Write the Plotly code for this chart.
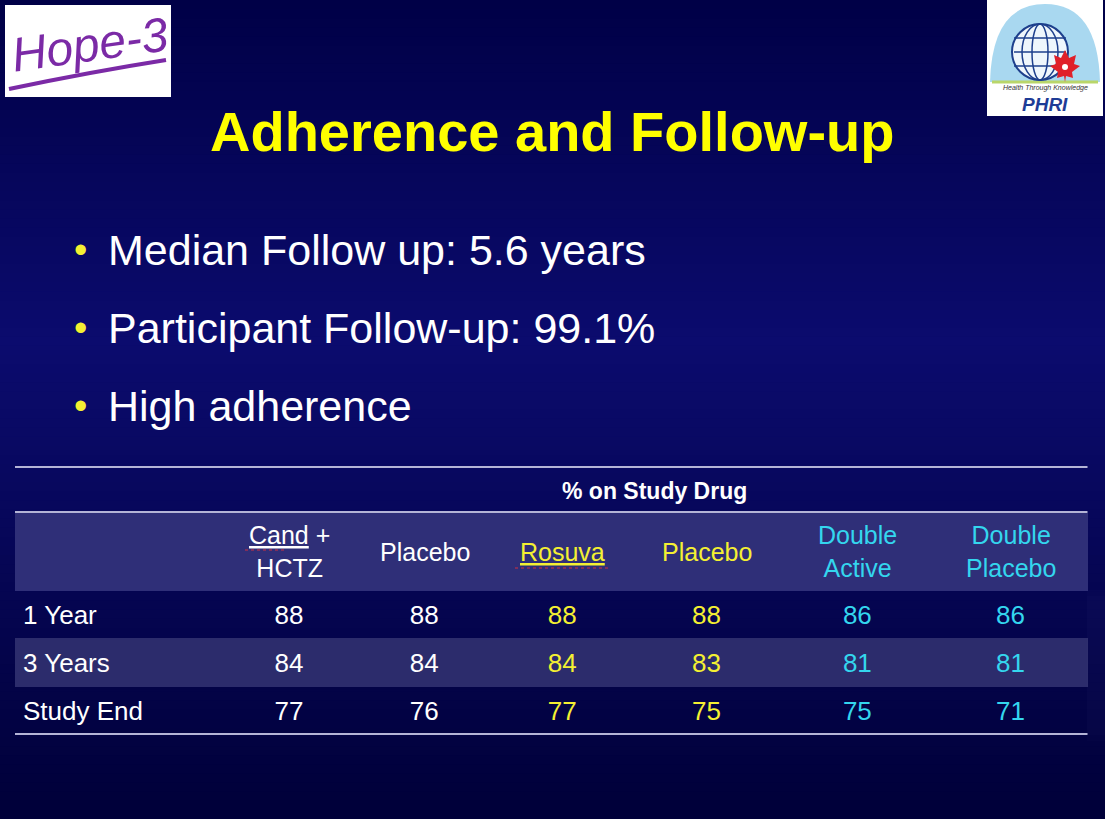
import plotly.graph_objects as go

W, H = 1105, 819
FONT = "Arial, Liberation Sans, sans-serif"

# --- data ---
title = "Adherence and Follow-up"
bullets = ["Median Follow up: 5.6 years", "Participant Follow-up: 99.1%", "High adherence"]

group_label = "% on Study Drug"
col_headers = [
    "",
    "<span style='text-decoration:underline'>Cand</span> +<br>HCTZ",
    "Placebo",
    "<span style='text-decoration:underline'>Rosuva</span>",
    "Placebo",
    "Double<br>Active",
    "Double<br>Placebo",
]
row_labels = ["1 Year", "3 Years", "Study End"]
cand_hctz = [88, 84, 77]
cand_placebo = [88, 84, 76]
rosuva = [88, 84, 77]
rosuva_placebo = [88, 83, 75]
double_active = [86, 81, 75]
double_placebo = [86, 81, 71]

# --- styling ---
WHITE, YELLOW, CYAN = "#ffffff", "#f4f032", "#34d6ee"
col_colors = [WHITE, WHITE, WHITE, YELLOW, YELLOW, CYAN, CYAN]
col_widths = [206.5, 135, 136, 140, 148.5, 153.5, 153]
TABLE_X0 = 15
TABLE_TOP = 513
HEAD_H, ROW_H = 77, 48
HEADER_FILL = "#2f2f78"
CLEAR = "rgba(0,0,0,0)"
row_fills = [CLEAR, "#2c2c6c", CLEAR]
RULE = "#b4b4d6"
TEXT_DROP = 6  # table text sits near the top of its cell; nudge it to the middle


def px(x):
    return x / W


def py(y):
    return 1 - y / H


def lerp(c1, c2, t):
    return tuple(round(a + (b - a) * t) for a, b in zip(c1, c2))


def note(x, y, text, size, color, family=FONT, xanchor="center", **kw):
    return dict(x=px(x), y=py(y), xref="paper", yref="paper", text=text, showarrow=False,
                xanchor=xanchor, yanchor="middle", font=dict(size=size, color=color, family=family), **kw)


# background gradient
stops = [(0.0, (0, 0, 70)), (0.42, (11, 11, 110)), (1.0, (0, 0, 56))]
shapes = []
n = 90
for i in range(n):
    t = (i + 0.5) / n
    for (t0, c0), (t1, c1) in zip(stops[:-1], stops[1:]):
        if t0 <= t <= t1:
            c = lerp(c0, c1, (t - t0) / (t1 - t0))
    shapes.append(dict(type="rect", xref="paper", yref="paper", x0=0, x1=1,
                       y0=1 - (i + 1) / n - 0.001, y1=1 - i / n,
                       fillcolor="rgb(%d,%d,%d)" % c, line_width=0, layer="below"))

fig = go.Figure()

table_x = [px(TABLE_X0), px(TABLE_X0 + sum(col_widths))]
table_bottom = TABLE_TOP + HEAD_H + ROW_H * len(row_labels)
body = [row_labels, cand_hctz, cand_placebo, rosuva, rosuva_placebo, double_active, double_placebo]

# row bands
fig.add_trace(go.Table(
    domain=dict(x=table_x, y=[py(table_bottom + 1), py(TABLE_TOP)]),
    columnwidth=col_widths,
    header=dict(values=[""] * 7, fill_color=HEADER_FILL,
                line=dict(color=HEADER_FILL, width=1), height=HEAD_H),
    cells=dict(values=[[""] * len(row_labels)] * 7, fill_color=[row_fills] * 7,
               line=dict(color=[row_fills] * 7, width=1), height=ROW_H),
))
# cell text
fig.add_trace(go.Table(
    domain=dict(x=table_x, y=[py(table_bottom + TEXT_DROP + 1), py(TABLE_TOP + TEXT_DROP)]),
    columnwidth=col_widths,
    header=dict(values=[""] * 7, fill_color=CLEAR, line=dict(color=CLEAR, width=0), height=HEAD_H),
    cells=dict(
        values=body,
        fill_color=CLEAR,
        line=dict(color=CLEAR, width=0),
        font=dict(color=col_colors, size=26, family=FONT),
        align=["left"] + ["center"] * 6,
        height=ROW_H,
    ),
))

annotations = []
annotations.append(note(552, 132, "<b>%s</b>" % title, 56, "#ffff00"))
for i, b in enumerate(bullets):
    yy = 250 + i * 78
    annotations.append(note(72, yy, "•", 38, YELLOW, xanchor="left"))
    annotations.append(note(106, yy, b, 43, WHITE, xanchor="left"))

# table headers
edges = [TABLE_X0]
for w in col_widths:
    edges.append(edges[-1] + w)
centers = [(a + b) / 2 for a, b in zip(edges[:-1], edges[1:])]
annotations.append(note((edges[1] + edges[-1]) / 2, 491, "<b>%s</b>" % group_label, 23, WHITE))
for c, txt, col in zip(centers, col_headers, col_colors):
    if txt:
        annotations.append(note(c, TABLE_TOP + HEAD_H / 2, txt, 25, col))

# rules
for yy in [467, TABLE_TOP - 1, table_bottom]:
    shapes.append(dict(type="line", xref="paper", yref="paper", x0=px(edges[0]), x1=px(edges[-1]),
                       y0=py(yy), y1=py(yy), line=dict(color=RULE, width=2)))
# spell-check squiggles
for x0, x1, yy in [(245, 287, 550), (515, 608, 568)]:
    shapes.append(dict(type="line", xref="paper", yref="paper", x0=px(x0), x1=px(x1),
                       y0=py(yy), y1=py(yy), line=dict(color="#d03040", width=1, dash="dot")))

# Hope-3 logo
shapes.append(dict(type="rect", xref="paper", yref="paper", x0=px(5), x1=px(171), y0=py(97), y1=py(5),
                   fillcolor="white", line_width=0))
shapes.append(dict(type="path", xref="paper", yref="paper",
                   path="M %f,%f Q %f,%f %f,%f" % (px(9), py(89), px(90), py(72), px(166), py(60)),
                   line=dict(color="#7b2aa6", width=4)))
annotations.append(note(90, 44, "<i>Hope-3</i>", 48, "#7b2aa6",
                        family="Liberation Sans Narrow, Arial", textangle=-8))

# PHRI logo
shapes.append(dict(type="rect", xref="paper", yref="paper", x0=px(987), x1=px(1103), y0=py(116), y1=py(0),
                   fillcolor="white", line_width=0))
shapes.append(dict(type="path", xref="paper", yref="paper",
                   path="M %f,%f Q %f,%f %f,%f Q %f,%f %f,%f Z" % (
                       px(990), py(82), px(992), py(4), px(1045), py(4),
                       px(1098), py(4), px(1100), py(82)),
                   fillcolor="#a9d8f0", line_width=0))
shapes.append(dict(type="line", xref="paper", yref="paper", x0=px(992), x1=px(1098), y0=py(82), y1=py(82),
                   line=dict(color="#b9d66a", width=3)))
shapes.append(dict(type="circle", xref="paper", yref="paper", x0=px(1012), x1=px(1068), y0=py(80), y1=py(24),
                   fillcolor="#eef6fc", line=dict(color="#1d3f8c", width=2)))
for dx in [8, 18]:
    shapes.append(dict(type="circle", xref="paper", yref="paper", x0=px(1040 - dx), x1=px(1040 + dx),
                       y0=py(80), y1=py(24), line=dict(color="#1d3f8c", width=1.5)))
for yy in [38, 52, 66]:
    shapes.append(dict(type="line", xref="paper", yref="paper", x0=px(1014), x1=px(1066), y0=py(yy), y1=py(yy),
                       line=dict(color="#1d3f8c", width=1.5)))
leaf = [(1065, 50), (1069, 58), (1076, 55), (1074, 64), (1080, 66), (1072, 72), (1073, 78),
        (1066, 76), (1065, 82), (1064, 76), (1057, 78), (1058, 72), (1050, 66), (1056, 64),
        (1054, 55), (1061, 58)]
shapes.append(dict(type="path", xref="paper", yref="paper",
                   path="M " + " L ".join("%f,%f" % (px(a), py(b)) for a, b in leaf) + " Z",
                   fillcolor="#e0202a", line_width=0))
shapes.append(dict(type="circle", xref="paper", yref="paper", x0=px(1062), x1=px(1068), y0=py(70), y1=py(64),
                   fillcolor="white", line_width=0))
annotations.append(note(1045, 88, "<i>Health Through Knowledge</i>", 7, "#333333"))
annotations.append(note(1045, 104, "<b><i>PHRI</i></b>", 19, "#1e3c96"))

fig.update_layout(
    width=W, height=H,
    margin=dict(l=0, r=0, t=0, b=0),
    paper_bgcolor="#00003c",
    plot_bgcolor="rgba(0,0,0,0)",
    shapes=shapes,
    annotations=annotations,
    showlegend=False,
)

fig.write_html("out.html", config={"displayModeBar": False},
               post_script="document.body.style.margin='0px';document.body.style.overflow='hidden';")
